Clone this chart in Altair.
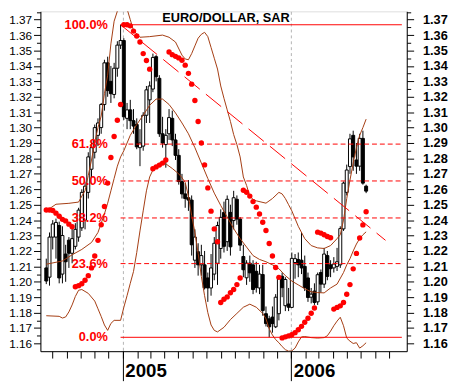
import altair as alt
import pandas as pd

# ---------------- data ----------------
week_start = "2004-07-19"   # first weekly candle

opens = [1.2090, 1.2030, 1.2290, 1.2290, 1.2365, 1.2050, 1.2180, 1.2270, 1.2185, 1.2230,
         1.2290, 1.2350, 1.2400, 1.2580, 1.2730, 1.2840, 1.2950, 1.3000, 1.3150, 1.3420,
         1.3300, 1.3215, 1.3385, 1.3535, 1.3565, 1.3060, 1.3115, 1.3045, 1.3020, 1.2870,
         1.2880, 1.3080, 1.3180, 1.3250, 1.3460, 1.3320, 1.2960, 1.2890, 1.2960, 1.3060,
         1.2920, 1.2820, 1.2650, 1.2570, 1.2545, 1.2530, 1.2140, 1.2195, 1.2110, 1.2110,
         1.2025, 1.1960, 1.2050, 1.2120, 1.2216, 1.2450, 1.2260, 1.2450, 1.2397, 1.2535,
         1.2407, 1.2164, 1.2026, 1.2121, 1.2110, 1.2068, 1.1960, 1.2047, 1.1793, 1.1760,
         1.1771, 1.1708, 1.1793, 1.2036, 1.1845, 1.1856, 1.1834, 1.2125, 1.2145, 1.2140,
         1.2100, 1.2025, 1.1900, 1.1940, 1.1870, 1.2060, 1.1985, 1.2170, 1.2110, 1.2090,
         1.2100, 1.2110, 1.2343, 1.2580, 1.2747, 1.2950, 1.2790, 1.2750, 1.2930, 1.2620]
highs = [1.2150, 1.2320, 1.2400, 1.2410, 1.2390, 1.2360, 1.2240, 1.2290, 1.2360, 1.2380,
         1.2480, 1.2600, 1.2650, 1.2840, 1.2910, 1.3020, 1.3060, 1.3160, 1.3440, 1.3460,
         1.3400, 1.3420, 1.3560, 1.3667, 1.3580, 1.3160, 1.3180, 1.3120, 1.3060, 1.2990,
         1.3100, 1.3270, 1.3300, 1.3480, 1.3470, 1.3340, 1.3070, 1.2990, 1.3120, 1.3110,
         1.2960, 1.2860, 1.2700, 1.2640, 1.2660, 1.2560, 1.2340, 1.2250, 1.2240, 1.2200,
         1.2060, 1.2180, 1.2290, 1.2390, 1.2470, 1.2520, 1.2560, 1.2500, 1.2590, 1.2560,
         1.2420, 1.2240, 1.2140, 1.2170, 1.2140, 1.2130, 1.2110, 1.2110, 1.1840, 1.1780,
         1.1840, 1.1920, 1.2040, 1.2060, 1.2030, 1.1960, 1.2190, 1.2180, 1.2190, 1.2322,
         1.2170, 1.2060, 1.1960, 1.1990, 1.2060, 1.2080, 1.2220, 1.2200, 1.2140, 1.2160,
         1.2220, 1.2360, 1.2650, 1.2760, 1.2960, 1.2980, 1.2900, 1.2960, 1.2980, 1.2630]
lows = [1.1985, 1.1975, 1.2210, 1.2150, 1.1990, 1.1990, 1.2000, 1.2090, 1.2120, 1.2210,
        1.2260, 1.2330, 1.2340, 1.2540, 1.2680, 1.2800, 1.2880, 1.2960, 1.3110, 1.3200,
        1.3160, 1.3190, 1.3330, 1.3510, 1.3050, 1.2990, 1.2990, 1.2960, 1.2860, 1.2750,
        1.2850, 1.3030, 1.3030, 1.3230, 1.3300, 1.2940, 1.2870, 1.2740, 1.2920, 1.2880,
        1.2790, 1.2630, 1.2540, 1.2480, 1.2460, 1.2170, 1.2090, 1.2040, 1.2040, 1.1950,
        1.1870, 1.1910, 1.2010, 1.1980, 1.2150, 1.2190, 1.2200, 1.2170, 1.2340, 1.2370,
        1.2200, 1.2030, 1.1980, 1.2000, 1.1920, 1.1930, 1.1920, 1.1780, 1.1710, 1.1640,
        1.1670, 1.1700, 1.1750, 1.1900, 1.1810, 1.1810, 1.1830, 1.2020, 1.2030, 1.2050,
        1.1940, 1.1870, 1.1860, 1.1850, 1.1850, 1.1930, 1.1960, 1.2010, 1.2030, 1.2060,
        1.2070, 1.2090, 1.2330, 1.2560, 1.2700, 1.2720, 1.2700, 1.2720, 1.2630, 1.2575]
closes = [1.2005, 1.2290, 1.2375, 1.2385, 1.2025, 1.2300, 1.2130, 1.2185, 1.2280, 1.2340,
          1.2465, 1.2580, 1.2620, 1.2810, 1.2870, 1.3000, 1.3030, 1.3150, 1.3420, 1.3240,
          1.3220, 1.3385, 1.3535, 1.3565, 1.3070, 1.3115, 1.3045, 1.3010, 1.2875, 1.2900,
          1.3080, 1.3245, 1.3270, 1.3455, 1.3330, 1.2960, 1.2900, 1.2950, 1.3065, 1.2920,
          1.2820, 1.2650, 1.2570, 1.2540, 1.2530, 1.2240, 1.2290, 1.2110, 1.2170, 1.1961,
          1.1960, 1.2090, 1.2250, 1.2365, 1.2418, 1.2230, 1.2535, 1.2227, 1.2545, 1.2407,
          1.2238, 1.2078, 1.2121, 1.2058, 1.1950, 1.1962, 1.2050, 1.1814, 1.1729, 1.1708,
          1.1729, 1.1900, 1.2026, 1.1962, 1.2015, 1.1835, 1.2152, 1.2150, 1.2110, 1.2090,
          1.1962, 1.1898, 1.1920, 1.1866, 1.2046, 1.1985, 1.2180, 1.2035, 1.2085, 1.2115,
          1.2130, 1.2345, 1.2640, 1.2725, 1.2927, 1.2810, 1.2750, 1.2930, 1.2640, 1.2588]

# Parabolic SAR, one dot per week
sar = [1.2466, 1.2466, 1.2462, 1.2445, 1.2425, 1.2405, 1.2395, 1.2374, 1.2357,
       1.1968, 1.1975, 1.1987, 1.2010, 1.2040, 1.2090, 1.2167, 1.2269, 1.2370, 1.2488,
       1.2640, 1.2806, 1.2942, 1.3048, 1.3150,
       1.3667, 1.3667, 1.3660, 1.3626, 1.3594, 1.3555, 1.3480, 1.3435, 1.3379,
       1.2733, 1.2745, 1.2757, 1.2770, 1.2790,
       1.3490, 1.3473, 1.3462, 1.3452, 1.3437, 1.3405, 1.3352, 1.3282, 1.3176, 1.3040,
       1.2900, 1.2758, 1.2609, 1.2458, 1.2343, 1.2260,
       1.1866, 1.1887, 1.1902, 1.1929, 1.1950, 1.1982, 1.2025,
       1.2594, 1.2581, 1.2556, 1.2520, 1.2484, 1.2440, 1.2386, 1.2333, 1.2248, 1.2167,
       1.2093, 1.2029,
       1.1636, 1.1643, 1.1649, 1.1657, 1.1670, 1.1689, 1.1711, 1.1738, 1.1764, 1.1796, 1.1830,
       1.2322, 1.2316, 1.2305, 1.2294, 1.2286,
       1.1823, 1.1834, 1.1844, 1.1866, 1.1919, 1.1982, 1.2084, 1.2184, 1.2284, 1.2369, 1.2454]

# Bollinger-type envelope lines (week number, value)
upper_weeks = [0, 3, 7, 10, 11, 12, 13, 14, 15, 16, 17, 18, 19, 20, 21, 22, 23, 24, 25, 26, 27,
               29, 32, 36, 38, 40, 42, 43, 44, 45, 46, 47, 48, 49, 50, 51, 52, 53, 54, 55, 56,
               57, 58, 59, 60, 61, 62, 63, 64, 65, 68, 70, 72, 73, 74, 75, 76, 77, 78, 80, 82,
               84, 86, 88, 90, 91, 92, 93, 94, 95, 96, 97, 98, 99]
upper_vals = [1.246, 1.2503, 1.2509, 1.2517, 1.2556, 1.259, 1.269, 1.279, 1.2905, 1.300, 1.3075,
              1.322, 1.334, 1.3543, 1.369, 1.3755, 1.3785, 1.379, 1.377, 1.370, 1.363,
              1.3586, 1.359, 1.360, 1.3586, 1.3555, 1.347, 1.3445, 1.344, 1.348, 1.353, 1.358,
              1.3605, 1.3618, 1.359, 1.352, 1.345, 1.338, 1.327, 1.319, 1.3115, 1.304, 1.2955,
              1.289, 1.281, 1.268, 1.2625, 1.2555, 1.2535, 1.2525, 1.251, 1.254, 1.258,
              1.257, 1.254, 1.250, 1.246, 1.241, 1.236, 1.228, 1.2235, 1.222, 1.2216, 1.2235,
              1.228, 1.2305, 1.240, 1.254, 1.266, 1.277, 1.287, 1.295, 1.300, 1.3055]
middle_weeks = [0, 5, 8, 11, 14, 16, 18, 19, 20, 21, 22, 23, 24, 26, 28, 30, 32, 34, 36, 38, 40,
                42, 44, 46, 48, 50, 52, 54, 56, 58, 60, 62, 64, 66, 68, 70, 72, 74, 76, 78, 80,
                82, 84, 86, 88, 90, 92, 93, 94, 95, 96, 97, 98, 99]
middle_vals = [1.2114, 1.2135, 1.2175, 1.221, 1.2255, 1.232, 1.244, 1.251, 1.259, 1.267, 1.275,
               1.281, 1.285, 1.295, 1.302, 1.308, 1.3145, 1.3185, 1.3185, 1.315, 1.3095, 1.303,
               1.296, 1.287, 1.277, 1.267, 1.2575, 1.2495, 1.242, 1.2345, 1.228, 1.2225, 1.217,
               1.2145, 1.213, 1.211, 1.2085, 1.204, 1.2005, 1.198, 1.1955, 1.1935, 1.193,
               1.1928, 1.196, 1.1985, 1.206, 1.211, 1.215, 1.220, 1.2245, 1.228, 1.2305, 1.2324]
lower_weeks = [0, 4, 5, 6, 7, 8, 9, 10, 11, 13, 15, 16, 17, 18, 19, 20, 21, 23, 24, 25, 26, 27,
               28, 29, 30, 31, 32, 33, 35, 37, 39, 41, 42, 43, 44, 45, 46, 47, 48, 49, 50, 51,
               52, 53, 55, 57, 59, 61, 63, 65, 67, 68, 69, 70, 71, 72, 73, 74, 75, 76, 77, 78,
               79, 80, 82, 84, 86, 87, 88, 89, 90, 91, 92, 93, 94, 95, 96, 97, 98, 99]
lower_vals = [1.178, 1.1776, 1.1765, 1.1772, 1.1805, 1.185, 1.1905, 1.1945, 1.195, 1.1925,
              1.1875, 1.1825, 1.1775, 1.172, 1.1685, 1.173, 1.175, 1.175, 1.1834, 1.191, 1.199,
              1.2067, 1.219, 1.233, 1.246, 1.259, 1.268, 1.2725, 1.277, 1.2765, 1.2735, 1.270,
              1.2675, 1.2645, 1.2555, 1.243, 1.232, 1.2185, 1.2035, 1.191, 1.180, 1.172,
              1.1685, 1.1675, 1.1705, 1.1755, 1.1795, 1.1835, 1.1855, 1.1835, 1.1795, 1.176,
              1.1695, 1.1655, 1.1625, 1.1605, 1.158, 1.156, 1.155, 1.1552, 1.157, 1.161,
              1.1643, 1.1645, 1.1638, 1.1635, 1.1638, 1.165, 1.168, 1.1715, 1.1745, 1.177,
              1.1715, 1.1635, 1.1615, 1.160, 1.1605, 1.157, 1.1585, 1.1605]

# Fibonacci retracement of the 1.1640 - 1.3667 range
fib_labels = ["0.0%", "23.6%", "38.2%", "50.0%", "61.8%", "100.0%"]
fib_levels = [1.1640, 1.2118, 1.2414, 1.2654, 1.2893, 1.3667]
fib_dashed = [False, True, True, True, True, False]
fib_from = "2004-12-27"

# dashed trend line from the top
trend_dates = ["2004-12-27", "2006-07-24"]
trend_vals = [1.3667, 1.2269]

title_text = "EURO/DOLLAR, SAR"
year_ticks = ["2005-01-01", "2006-01-01"]
month_ticks = list(pd.date_range("2004-08-01", "2006-08-01", freq="MS").strftime("%Y-%m-%d"))
y_ticks = [round(1.16 + 0.005 * i, 3) for i in range(44)]   # 1.160 ... 1.375

# ---------------- layout ----------------
FONT = "Liberation Sans"
RED = "#ff0000"
BROWN = "#a33b10"
PLOT_W, PLOT_H = 373, 346
PX_PER_WEEK = 3.38


def ms(ts):
    t = pd.Timestamp(ts)
    if t.tzinfo is None:
        t = t.tz_localize("UTC")
    return int(t.value // 10**6)


t_start = pd.Timestamp(week_start, tz="UTC")
d0 = t_start - pd.Timedelta(days=7 / PX_PER_WEEK)
d1 = d0 + pd.Timedelta(days=7 * PLOT_W / PX_PER_WEEK)
week_ms = lambda w: ms(t_start + pd.Timedelta(days=7 * w))

candles = pd.DataFrame({
    "t": [week_ms(i) for i in range(len(opens))],
    "open": opens, "high": highs, "low": lows, "close": closes, "sar": sar,
})

bands = pd.concat([
    pd.DataFrame({"t": [week_ms(w) for w in upper_weeks], "v": upper_vals, "band": "upper"}),
    pd.DataFrame({"t": [week_ms(w) for w in middle_weeks], "v": middle_vals, "band": "middle"}),
    pd.DataFrame({"t": [week_ms(w) for w in lower_weeks], "v": lower_vals, "band": "lower"}),
])

fib = pd.DataFrame({"label": fib_labels, "level": fib_levels, "dashed": fib_dashed,
                    "t0": ms(fib_from), "t1": ms(d1)})
trend = pd.DataFrame({"t": [ms(d) for d in trend_dates], "v": trend_vals})

x_scale = alt.Scale(type="utc", domain=[ms(d0), ms(d1)])
y_scale = alt.Scale(domain=[1.155, 1.3754], zero=False, nice=False)

MAJOR = "round(datum.value*200) % 2 == 0"
minor_size = {"condition": {"test": MAJOR, "value": 7}, "value": 4}

left_axis = alt.Axis(orient="left", values=y_ticks, title=None, grid=False,
                     labelExpr=f"{MAJOR} ? format(datum.value, '.2f') : ''",
                     tickSize=minor_size, tickColor="black", tickWidth=1,
                     domainColor="black", labelFont=FONT, labelFontSize=12,
                     labelColor="black", labelPadding=2, labelOverlap=False)
right_axis = alt.Axis(orient="right", values=y_ticks, title=None, grid=False,
                      labelExpr=f"{MAJOR} ? format(datum.value, '.2f') : ''",
                      tickSize=minor_size, tickColor="black", tickWidth=1,
                      domainColor="black", labelFont=FONT, labelFontSize=13,
                      labelFontWeight="bold", labelColor="black", labelPadding=9,
                      labelOverlap=False)
month_axis = alt.Axis(orient="bottom", values=[ms(m) for m in month_ticks], title=None,
                      labels=False, tickSize=7, tickColor="black", domainColor="black",
                      grid=False)
year_axis = alt.Axis(orient="bottom", values=[ms(y) for y in year_ticks], title=None,
                     labelExpr="utcFormat(datum.value, '%Y')", tickSize=30,
                     tickColor="black", domain=False, labelFont=FONT, labelFontSize=19,
                     labelFontWeight="bold", labelColor="black", labelAlign="left",
                     labelBaseline="top", labelPadding=-19, labelOffset=2,
                     labelOverlap=False, labelFlush=False, labelBound=False,
                     grid=True, gridColor="#b4b4b4", gridDash=[3, 3], gridWidth=1)

X = lambda f, axis=None: alt.X(f, type="temporal", scale=x_scale, axis=axis)
Y = lambda f, axis=None: alt.Y(f, type="quantitative", scale=y_scale, axis=axis)

wicks = alt.Chart(candles).mark_rule(color="black", strokeWidth=1).encode(
    x=X("t", year_axis), y=Y("low", right_axis), y2="high:Q")

bodies = alt.Chart(candles).mark_bar(size=3, stroke="black", strokeWidth=1).encode(
    x=X("t"), y=Y("open"), y2="close:Q",
    fill=alt.condition("datum.close >= datum.open", alt.value("white"), alt.value("black")))

band_lines = alt.Chart(bands).mark_line(color=BROWN, strokeWidth=1, clip=True).encode(
    x=X("t", month_axis), y=Y("v", left_axis), detail="band:N", order="t:Q")

fib_solid = alt.Chart(fib).transform_filter("!datum.dashed").mark_rule(
    color=RED, strokeWidth=1).encode(x=X("t0"), x2="t1:T", y=Y("level"))
fib_dash = alt.Chart(fib).transform_filter("datum.dashed").mark_rule(
    color=RED, strokeWidth=1, strokeDash=[5, 3]).encode(x=X("t0"), x2="t1:T", y=Y("level"))
fib_text = alt.Chart(fib).mark_text(align="right", baseline="middle", dx=-13, color=RED,
                                    font=FONT, fontSize=13, fontWeight="bold").encode(
    x=X("t0"), y=Y("level"), text="label:N")

trend_line = alt.Chart(trend).mark_line(color=RED, strokeWidth=1, strokeDash=[20, 8]).encode(
    x=X("t"), y=Y("v"))

sar_dots = alt.Chart(candles).mark_point(filled=True, shape="circle", size=30, color=RED,
                                         opacity=1).encode(x=X("t"), y=Y("sar"))

# chart caption, drawn inside the plot frame at the top
title_mark = alt.Chart(pd.DataFrame({"title": [title_text]})).mark_text(
    align="left", baseline="alphabetic", font=FONT, fontSize=13, fontWeight="bold",
    color="black").encode(x=alt.value(124), y=alt.value(11), text="title:N")

chart = alt.layer(
    wicks, bodies, band_lines, fib_solid, fib_dash, trend_line, fib_text, sar_dots, title_mark
).resolve_scale(x="shared", y="shared").resolve_axis(
    x="independent", y="independent"
).properties(
    width=PLOT_W, height=PLOT_H,
    autosize=alt.AutoSizeParams(type="none"),
    padding={"left": 33, "top": 0, "right": 43, "bottom": 30},
).configure_view(stroke=None).configure(background="white")

chart.save("out.html", embed_options={"renderer": "svg", "actions": False})
